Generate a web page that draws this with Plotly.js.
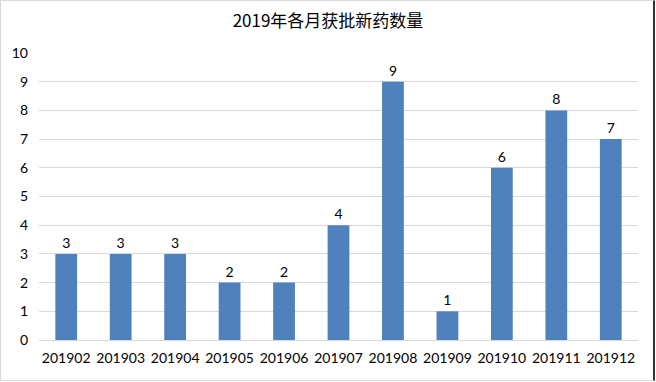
<!DOCTYPE html>
<html><head><meta charset="utf-8">
<script src="https://cdn.plot.ly/plotly-3.0.1.min.js"></script>
<style>
html,body{margin:0;padding:0;background:#fff;}
#wrap{position:relative;width:656px;height:382px;}
#chart{width:656px;height:382px;}
#frame{position:absolute;left:0;top:0;width:652px;height:379px;border:1px solid #d9d9d9;border-right:2px solid #333;pointer-events:none;}
</style></head>
<body>
<div id="wrap"><div id="chart"></div><div id="frame"></div></div>
<script>
const months = ["201902","201903","201904","201905","201906","201907","201908","201909","201910","201911","201912"];
const counts = [3,3,3,2,2,4,9,1,6,8,7];
const yTicks = [0,1,2,3,4,5,6,7,8,9,10];

const trace = {
  type: 'bar',
  x: months,
  y: counts,
  marker: {color: '#4F81BD'},
  text: counts.map(String),
  textposition: 'outside',
  cliponaxis: false,
  textfont: {family: 'Lato, "Open Sans", sans-serif', size: 14, color: '#000'},
  hoverinfo: 'none'
};

const layout = {
  width: 656, height: 382,
  margin: {l: 39, r: 18, t: 53, b: 42},
  paper_bgcolor: '#fff', plot_bgcolor: '#fff',
  bargap: 0.6,
  showlegend: false,
  title: {text: '2019年各月获批新药数量', x: 0.5, xanchor: 'center', y: 0.945, yanchor: 'middle',
          font: {family: '"Noto Sans CJK SC", "Noto Sans", sans-serif', size: 17, color: '#000'}},
  xaxis: {type: 'category', tickfont: {family: 'Lato, "Open Sans", sans-serif', size: 14, color: '#000'},
          showgrid: false, showline: true, linecolor: '#d9d9d9', linewidth: 1,
          ticks: 'outside', ticklen: 5, tickcolor: 'rgba(0,0,0,0)', fixedrange: true},
  yaxis: {range: [0, 10], tickvals: yTicks, ticktext: yTicks.map(String),
          tickfont: {family: 'Lato, "Open Sans", sans-serif', size: 14, color: '#000'},
          showgrid: true, gridcolor: '#d9d9d9', gridwidth: 1, zeroline: false, showline: false,
          ticks: '', ticklabelstandoff: 10, fixedrange: true}
};

Plotly.newPlot('chart', [trace], layout, {displayModeBar: false, staticPlot: true});
</script>
</body></html>
